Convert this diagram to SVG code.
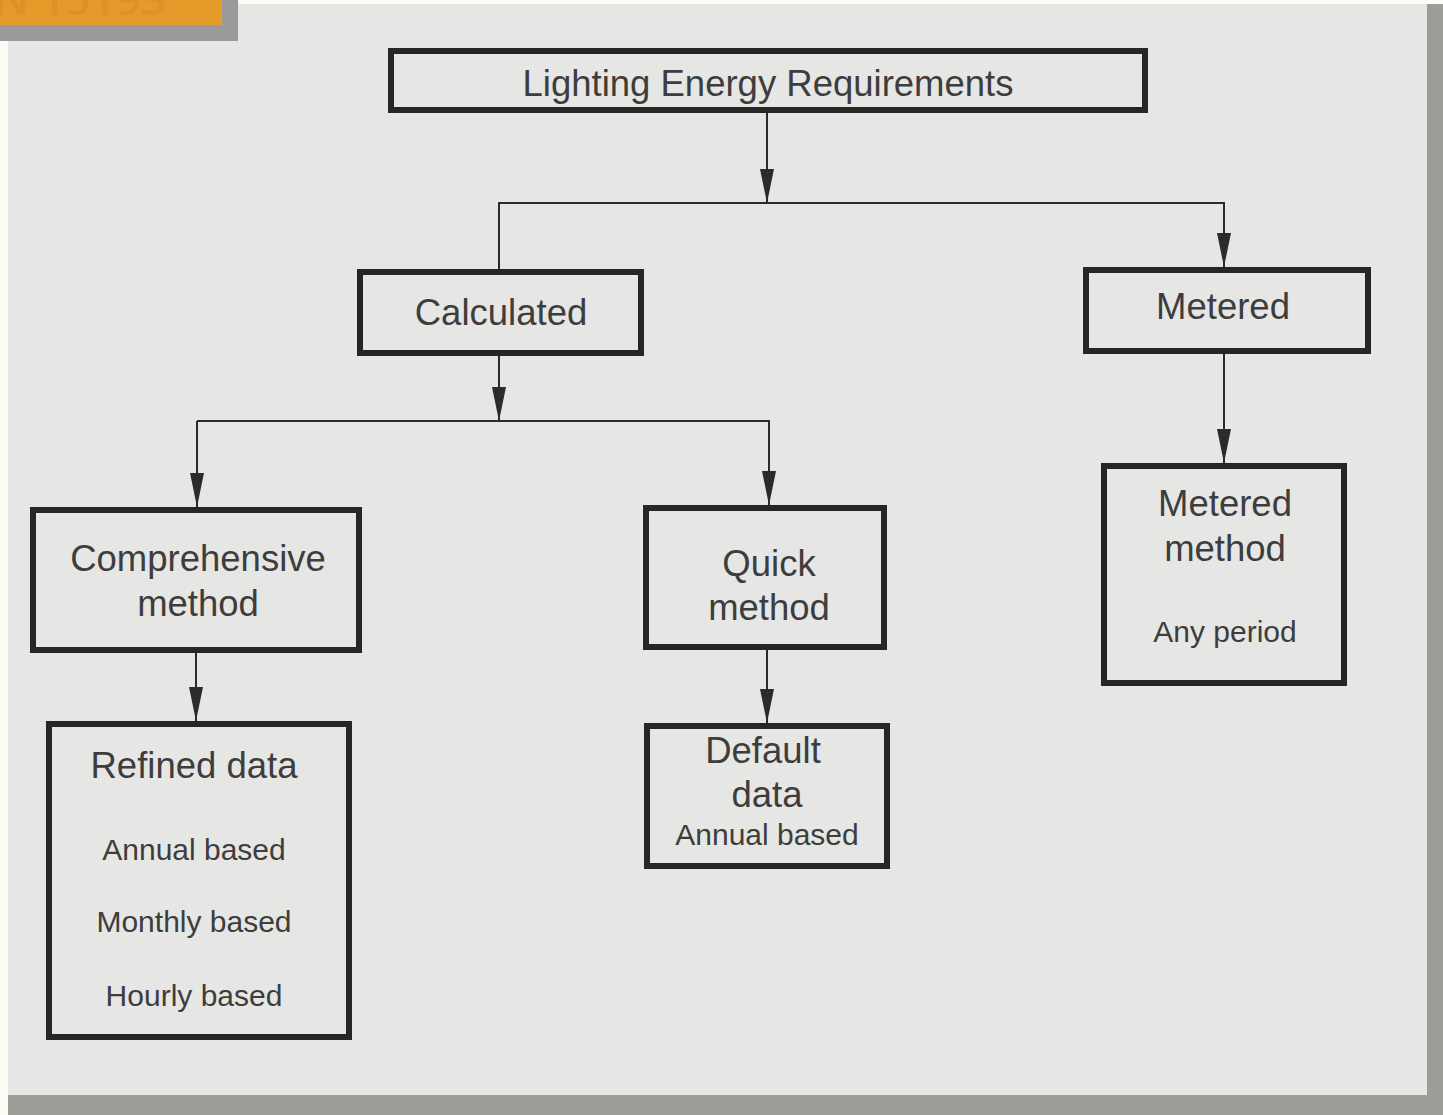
<svg xmlns="http://www.w3.org/2000/svg" width="1443" height="1115" viewBox="0 0 1443 1115">
<style>
.box{fill:none;stroke:#262624;stroke-width:6}
.con{fill:none;stroke:#2b2b2b;stroke-width:2}
.t{font-family:"Liberation Sans",Arial,sans-serif;font-size:36.5px;fill:#3d3d3d;text-anchor:middle}
.s{font-size:30px}
</style>
<defs>
<marker id="arr" viewBox="0 0 34 14" refX="34" refY="7" markerWidth="34" markerHeight="14" markerUnits="userSpaceOnUse" orient="auto">
<path d="M0,0 L34,7 L0,14 z" fill="#2b2b2b"/>
</marker>
</defs>
<rect x="0" y="0" width="1443" height="1115" fill="#fdfcf4"/>
<rect x="1427" y="4" width="16" height="1111" fill="#9d9d97"/>
<rect x="8" y="1095" width="1435" height="20" fill="#9d9d97"/>
<rect x="8" y="4" width="1419" height="1091" fill="#e6e6e4"/>
<rect x="0" y="0" width="238" height="41" fill="#9a9a9a"/>
<rect x="0" y="0" width="222" height="25" fill="#e59a2a"/>
<text x="166" y="15" font-family="'Open Sans',sans-serif" font-size="44" font-weight="600" fill="#dc9227" text-anchor="end">N 15193</text>

<g id="connectors">
<path class="con" d="M767,113 V203" marker-end="url(#arr)"/>
<path class="con" d="M499,269 V203 H1224 V267" marker-end="url(#arr)"/>
<path class="con" d="M499,356 V421" marker-end="url(#arr)"/>
<path class="con" d="M197,421 V507" marker-end="url(#arr)"/>
<path class="con" d="M197,421 H769 V505" marker-end="url(#arr)"/>
<path class="con" d="M1224,354 V463" marker-end="url(#arr)"/>
<path class="con" d="M196,653 V721" marker-end="url(#arr)"/>
<path class="con" d="M767,650 V723" marker-end="url(#arr)"/>
</g>

<g id="lighting">
<rect class="box" x="391" y="51" width="754" height="59"/>
<text class="t" x="768" y="96" font-size="37">Lighting Energy Requirements</text>
</g>
<g id="calculated">
<rect class="box" x="360" y="272" width="281" height="81"/>
<text class="t" x="501" y="325">Calculated</text>
</g>
<g id="metered">
<rect class="box" x="1086" y="270" width="282" height="81"/>
<text class="t" x="1223" y="319">Metered</text>
</g>
<g id="comprehensive">
<rect class="box" x="33" y="510" width="326" height="140"/>
<text class="t" x="198" y="571">Comprehensive</text>
<text class="t" x="198" y="616">method</text>
</g>
<g id="quick">
<rect class="box" x="646" y="508" width="238" height="139"/>
<text class="t" x="769" y="576">Quick</text>
<text class="t" x="769" y="620">method</text>
</g>
<g id="metered-method">
<rect class="box" x="1104" y="466" width="240" height="217"/>
<text class="t" x="1225" y="516">Metered</text>
<text class="t" x="1225" y="561">method</text>
<text class="t s" x="1225" y="642">Any period</text>
</g>
<g id="refined">
<rect class="box" x="49" y="724" width="300" height="313"/>
<text class="t" x="194" y="778">Refined data</text>
<text class="t s" x="194" y="860">Annual based</text>
<text class="t s" x="194" y="932">Monthly based</text>
<text class="t s" x="194" y="1006">Hourly based</text>
</g>
<g id="default">
<rect class="box" x="647" y="726" width="240" height="140"/>
<text class="t" x="763" y="763">Default</text>
<text class="t" x="767" y="807">data</text>
<text class="t s" x="767" y="845">Annual based</text>
</g>
</svg>
